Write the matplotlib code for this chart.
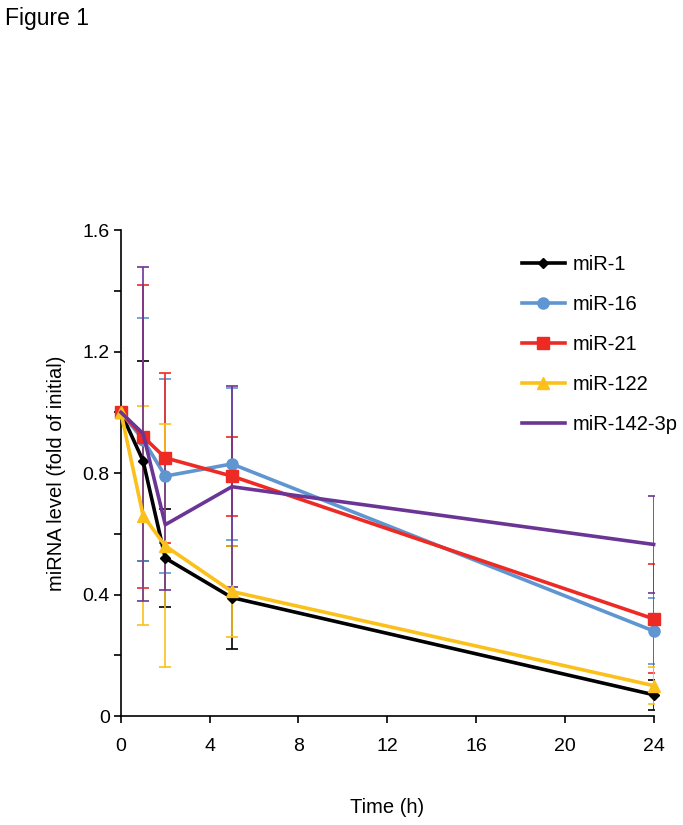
import matplotlib
matplotlib.use("Agg")
import matplotlib.pyplot as plt
from matplotlib.ticker import MultipleLocator

plt.rcParams['font.family'] = ['Liberation Sans', 'DejaVu Sans']

time_h = [0, 1, 2, 5, 24]
series_names = ["miR-1", "miR-16", "miR-21", "miR-122", "miR-142-3p"]

mir1 = [1.0, 0.84, 0.52, 0.39, 0.07]
mir1_err = [0.0, 0.33, 0.16, 0.17, 0.05]

mir16 = [1.0, 0.91, 0.79, 0.83, 0.28]
mir16_err = [0.0, 0.40, 0.32, 0.25, 0.11]

mir21 = [1.0, 0.92, 0.85, 0.79, 0.32]
mir21_err = [0.0, 0.50, 0.28, 0.13, 0.18]

mir122 = [1.0, 0.66, 0.56, 0.41, 0.10]
mir122_err = [0.0, 0.36, 0.40, 0.15, 0.06]

mir142 = [1.0, 0.93, 0.63, 0.755, 0.565]
mir142_err = [0.0, 0.55, 0.215, 0.33, 0.16]

values = [mir1, mir16, mir21, mir122, mir142]
errors = [mir1_err, mir16_err, mir21_err, mir122_err, mir142_err]
colors = ["#000000", "#5F95D0", "#EE2A24", "#FBC01A", "#6B3595"]
markers = ["D", "o", "s", "^", None]
msizes = [5.5, 8, 8, 8, 0]

fig = plt.figure(figsize=(6.83, 8.25), dpi=100)
ax = fig.add_axes([0.177, 0.1321, 0.780, 0.589])

# error bars first (behind lines)
for v, e, c in zip(values, errors, colors):
    ax.errorbar(time_h, v, yerr=e, fmt='none', ecolor=c, elinewidth=1.2,
                capsize=4, capthick=1.2, zorder=2)

for name, v, c, m, ms in zip(series_names, values, colors, markers, msizes):
    ax.plot(time_h, v, color=c, lw=2.6, marker=m, markersize=ms,
            label=name, zorder=3, clip_on=False)

ax.set_xlim(0, 24)
ax.set_ylim(0, 1.6)
ax.set_xticks([0, 4, 8, 12, 16, 20, 24])
ax.set_xticklabels(["0", "4", "8", "12", "16", "20", "24"])
ax.set_yticks([0, 0.4, 0.8, 1.2, 1.6])
ax.set_yticklabels(["0", "0.4", "0.8", "1.2", "1.6"])
ax.yaxis.set_minor_locator(MultipleLocator(0.2))
ax.tick_params(axis='both', which='both', direction='out', length=5, width=1.2,
               labelsize=14, colors='black')
ax.tick_params(axis='y', which='both', pad=3)
ax.tick_params(axis='x', pad=11)
for s in ['top', 'right']:
    ax.spines[s].set_visible(False)
for s in ['left', 'bottom']:
    ax.spines[s].set_linewidth(1.2)

ax.set_xlabel("Time (h)", fontsize=14.5, labelpad=31)
ax.set_ylabel("miRNA level (fold of initial)", fontsize=14.5, labelpad=12)

leg = ax.legend(loc='upper left', bbox_to_anchor=(0.737, 0.966), frameon=False,
                fontsize=14.5, handlelength=2.15, labelspacing=1.05,
                handletextpad=0.4, borderaxespad=0)

fig.text(0.008, 0.992, "Figure 1", fontsize=16.5, va='top', ha='left')

fig.savefig("out.png", dpi=100)
